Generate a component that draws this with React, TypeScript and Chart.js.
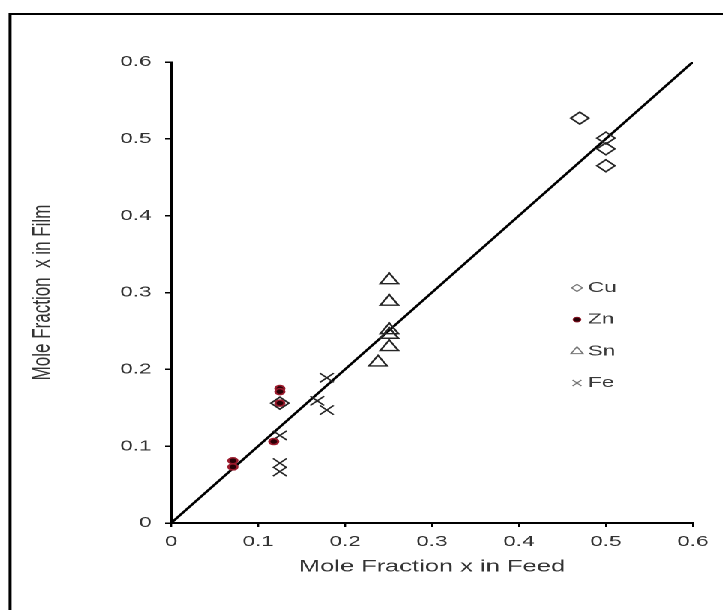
import React, { useEffect, useRef } from 'react';
import { Chart, registerables } from 'chart.js';

Chart.register(...registerables);

// ---- data (mole fraction in feed -> mole fraction in film) ----
const cuFeed = [0.47, 0.5, 0.5, 0.5, 0.125];
const cuFilm = [0.527, 0.501, 0.487, 0.465, 0.156];
const znFeed = [0.125, 0.125, 0.125, 0.118, 0.071, 0.071];
const znFilm = [0.175, 0.171, 0.156, 0.106, 0.081, 0.073];
const snFeed = [0.251, 0.251, 0.251, 0.251, 0.251, 0.238];
const snFilm = [0.316, 0.288, 0.251, 0.245, 0.229, 0.209];
const feFeed = [0.179, 0.168, 0.179, 0.125, 0.125, 0.125];
const feFilm = [0.189, 0.159, 0.147, 0.114, 0.078, 0.067];
const fitFeed = [0, 0.6];
const fitFilm = [0, 0.6];
const seriesNames = ['Cu', 'Zn', 'Sn', 'Fe'];
const tickValues = [0, 0.1, 0.2, 0.3, 0.4, 0.5, 0.6];
const tickLabels = ['0', '0.1', '0.2', '0.3', '0.4', '0.5', '0.6'];
const xTitle = 'Mole Fraction x in Feed';
const yTitle = 'Mole Fraction  x in Film';

const FONT = "'Liberation Sans', Arial, sans-serif";
const STRETCH = 1.5;
const VW = Math.round(723 / STRETCH);
const VH = 610;

const pts = (xs: number[], ys: number[]) => xs.map((x, i) => ({ x, y: ys[i] }));

const framePlugin = {
  id: 'frame',
  beforeDraw(chart: any) {
    const { ctx } = chart;
    ctx.save();
    ctx.strokeStyle = '#000';
    ctx.lineWidth = 2;
    ctx.beginPath();
    ctx.moveTo(6.7, VH + 5);
    ctx.lineTo(6.7, 14);
    ctx.lineTo(VW + 5, 14);
    ctx.stroke();
    ctx.restore();
  },
};

const legendPlugin = {
  id: 'customLegend',
  afterDraw(chart: any) {
    const { ctx, chartArea } = chart;
    const lx = chartArea.left + (chartArea.right - chartArea.left) * 0.778;
    const y0 = chartArea.top + (chartArea.bottom - chartArea.top) * 0.49;
    const dy = 31.7;
    ctx.save();
    seriesNames.forEach((name, i) => {
      const y = y0 + i * dy;
      ctx.beginPath();
      ctx.lineWidth = 1;
      ctx.strokeStyle = '#777';
      if (name === 'Cu') {
        const r = 3.6;
        ctx.moveTo(lx - r, y); ctx.lineTo(lx, y - r); ctx.lineTo(lx + r, y); ctx.lineTo(lx, y + r);
        ctx.closePath();
        ctx.stroke();
      } else if (name === 'Zn') {
        ctx.arc(lx, y, 2.4, 0, Math.PI * 2);
        ctx.fillStyle = '#2a0006';
        ctx.fill();
        ctx.strokeStyle = '#8a1626';
        ctx.stroke();
      } else if (name === 'Sn') {
        const r = 4.6;
        ctx.moveTo(lx, y - r);
        ctx.lineTo(lx + 0.866 * r, y + 0.5 * r);
        ctx.lineTo(lx - 0.866 * r, y + 0.5 * r);
        ctx.closePath();
        ctx.stroke();
      } else {
        const r = 4.2 * 0.707;
        ctx.moveTo(lx - r, y - r); ctx.lineTo(lx + r, y + r);
        ctx.moveTo(lx + r, y - r); ctx.lineTo(lx - r, y + r);
        ctx.stroke();
      }
      ctx.fillStyle = '#3a3a3a';
      ctx.font = `15px ${FONT}`;
      ctx.textBaseline = 'middle';
      ctx.textAlign = 'left';
      ctx.fillText(name, lx + 7.3, y);
    });
    ctx.restore();
  },
};

export default function App() {
  const ref = useRef<HTMLCanvasElement>(null);

  useEffect(() => {
    const canvas = ref.current;
    if (!canvas) return;
    const markerColor = '#262626';
    const chart = new Chart(canvas, {
      type: 'scatter',
      data: {
        datasets: [
          {
            label: 'Zn',
            data: pts(znFeed, znFilm),
            pointStyle: 'circle',
            pointRadius: 3.0,
            backgroundColor: '#2a0006',
            borderColor: '#9a1a2c',
            borderWidth: 1.5,
          },
          {
            label: 'Cu',
            data: pts(cuFeed, cuFilm),
            pointStyle: 'rectRot',
            pointRadius: 6,
            backgroundColor: 'rgba(0,0,0,0)',
            borderColor: markerColor,
            borderWidth: 1.4,
          },
          {
            label: 'Sn',
            data: pts(snFeed, snFilm),
            pointStyle: 'triangle',
            pointRadius: 7,
            backgroundColor: 'rgba(0,0,0,0)',
            borderColor: markerColor,
            borderWidth: 1.4,
          },
          {
            label: 'Fe',
            data: pts(feFeed, feFilm),
            pointStyle: 'crossRot',
            pointRadius: 6.5,
            backgroundColor: 'rgba(0,0,0,0)',
            borderColor: markerColor,
            borderWidth: 1.3,
          },
          {
            label: 'fit',
            data: pts(fitFeed, fitFilm),
            showLine: true,
            borderColor: '#000',
            borderWidth: 2,
            pointRadius: 0,
          },
        ],
      },
      options: {
        animation: false,
        responsive: false,
        devicePixelRatio: 2,
        events: [],
        layout: { padding: { left: 0, top: 62, right: VW - 462, bottom: 0 } },
        plugins: { legend: { display: false }, tooltip: { enabled: false } },
        scales: {
          x: {
            type: 'linear',
            min: 0,
            max: 0.6,
            afterBuildTicks: (s: any) => {
              s.ticks = tickValues.map((v) => ({ value: v }));
            },
            afterFit: (s: any) => {
              s.height = 87;
            },
            border: { display: true, color: '#000', width: 2 },
            grid: {
              display: true,
              drawOnChartArea: false,
              drawTicks: true,
              tickLength: 4,
              color: '#000',
              lineWidth: 1.2,
            },
            ticks: {
              callback: (_v: any, i: number) => tickLabels[i],
              font: { family: FONT, size: 15 },
              color: '#333',
              padding: 6,
              maxRotation: 0,
              autoSkip: false,
            },
            title: {
              display: true,
              text: xTitle,
              font: { family: FONT, size: 17 },
              color: '#333',
              padding: { top: 0, bottom: 33 },
            },
          },
          y: {
            type: 'linear',
            min: 0,
            max: 0.6,
            afterBuildTicks: (s: any) => {
              s.ticks = tickValues.map((v) => ({ value: v }));
            },
            afterFit: (s: any) => {
              s.width = 114;
            },
            border: { display: true, color: '#000', width: 1.5 },
            grid: {
              display: true,
              drawOnChartArea: false,
              drawTicks: true,
              tickLength: 4,
              color: '#000',
              lineWidth: 1.5,
            },
            ticks: {
              callback: (_v: any, i: number) => tickLabels[i],
              font: { family: FONT, size: 15 },
              color: '#333',
              padding: 9,
              autoSkip: false,
            },
            title: {
              display: true,
              text: yTitle,
              font: { family: FONT, size: 17 },
              color: '#333',
              padding: { top: 18, bottom: 0 },
            },
          },
        },
      },
      plugins: [framePlugin, legendPlugin],
    } as any);
    return () => chart.destroy();
  }, []);

  return (
    <div
      style={{
        position: 'absolute',
        left: 0,
        top: 0,
        width: VW,
        height: VH,
        transform: `scaleX(${723 / VW})`,
        transformOrigin: '0 0',
        background: '#fff',
      }}
    >
      <canvas ref={ref} width={VW} height={VH} />
    </div>
  );
}
